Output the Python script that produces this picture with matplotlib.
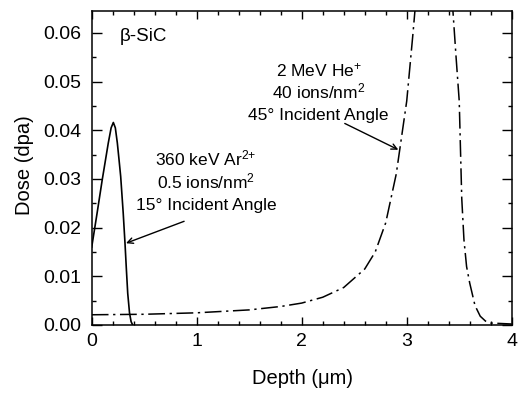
import matplotlib
matplotlib.use("Agg")
import matplotlib.pyplot as plt
from matplotlib.ticker import MultipleLocator, FormatStrFormatter

plt.rcParams['font.family'] = ['Liberation Sans', 'DejaVu Sans']
plt.rcParams['mathtext.fontset'] = 'custom'
plt.rcParams['mathtext.rm'] = 'Liberation Sans'
plt.rcParams['mathtext.it'] = 'Liberation Sans:italic'
plt.rcParams['mathtext.bf'] = 'Liberation Sans:bold'

# Ar2+ irradiation damage profile
ar_depth = [0.0, 0.05, 0.10, 0.158, 0.185, 0.206, 0.225, 0.244, 0.26, 0.276,
            0.30, 0.317, 0.33, 0.343, 0.36, 0.375, 0.39]
ar_dose = [0.0160, 0.0228, 0.0298, 0.0374, 0.0405, 0.0416, 0.0405, 0.0374,
           0.0340, 0.0305, 0.0230, 0.0168, 0.0115, 0.0065, 0.0025, 0.0007, 0.0]

# He+ irradiation damage profile
he_depth = [0.0, 0.5, 1.0, 1.5, 1.8, 2.0, 2.2, 2.4, 2.6, 2.7, 2.8, 2.9, 3.0,
            3.06, 3.1, 3.2, 3.3, 3.38, 3.44, 3.47, 3.50, 3.524, 3.545, 3.57,
            3.60, 3.65, 3.70, 3.75, 3.80, 3.90, 4.0]
he_dose = [0.0021, 0.0022, 0.0025, 0.0031, 0.0038, 0.0045, 0.0057, 0.0077,
           0.0115, 0.015, 0.021, 0.031, 0.046, 0.060, 0.070, 0.088, 0.098,
           0.085, 0.0645, 0.055, 0.046, 0.026, 0.0175, 0.012, 0.0086, 0.004,
           0.0018, 0.0008, 0.0004, 0.0003, 0.0002]

fig = plt.figure(figsize=(5.19, 3.97), dpi=100)
ax = fig.add_axes([0.1767, 0.1814, 0.986 - 0.1767, 0.9723 - 0.1814])

ax.plot(ar_depth, ar_dose, color='black', lw=1.2)
ax.plot(he_depth, he_dose, color='black', lw=1.1, dashes=[11, 3, 1.5, 3])

ax.set_xlim(0, 4)
ax.set_ylim(0, 0.0645)
ax.xaxis.set_major_locator(MultipleLocator(1))
ax.xaxis.set_minor_locator(MultipleLocator(0.2))
ax.yaxis.set_major_locator(MultipleLocator(0.01))
ax.yaxis.set_minor_locator(MultipleLocator(0.005))
ax.yaxis.set_major_formatter(FormatStrFormatter('%.2f'))
ax.tick_params(which='both', direction='in', top=True, right=True,
               labelsize=14, width=1.0)
ax.tick_params(axis='x', which='major', length=5.5, pad=6)
ax.tick_params(axis='y', which='major', length=7, pad=7.5)
ax.tick_params(which='minor', length=3)
for s in ax.spines.values():
    s.set_linewidth(1.1)

fig.text(302.5 / 519, 1 - 379 / 397, 'Depth (\u03bcm)', fontsize=14.5,
         ha='center', va='center')
fig.text(24 / 519, 1 - 165.5 / 397, 'Dose (dpa)', fontsize=14.5,
         ha='center', va='center', rotation=90)

ax.text(0.27, 0.0583, '\u03b2-SiC', fontsize=13.5, ha='left', va='baseline')

ax.text(2.16, 0.0511, '2 MeV He$^{+}$', fontsize=12.5, ha='center', va='baseline')
ax.text(2.16, 0.0466, '40 ions/nm$^{2}$', fontsize=12.5, ha='center', va='baseline')
ax.text(2.16, 0.0422, '45\u00b0 Incident Angle', fontsize=12.5, ha='center', va='baseline')
ax.annotate('', xy=(2.92, 0.0360), xytext=(2.41, 0.0414),
            arrowprops=dict(arrowstyle='->', color='black', lw=1.0,
                            shrinkA=0, shrinkB=0))

ax.text(1.09, 0.0328, '360 keV Ar$^{2{+}}$', fontsize=12.5, ha='center', va='baseline')
ax.text(1.09, 0.0281, '0.5 ions/nm$^{2}$', fontsize=12.5, ha='center', va='baseline')
ax.text(1.09, 0.0237, '15\u00b0 Incident Angle', fontsize=12.5, ha='center', va='baseline')
ax.annotate('', xy=(0.327, 0.0168), xytext=(0.88, 0.0213),
            arrowprops=dict(arrowstyle='->', color='black', lw=1.0,
                            shrinkA=0, shrinkB=0))

fig.savefig('out.png', dpi=100)
